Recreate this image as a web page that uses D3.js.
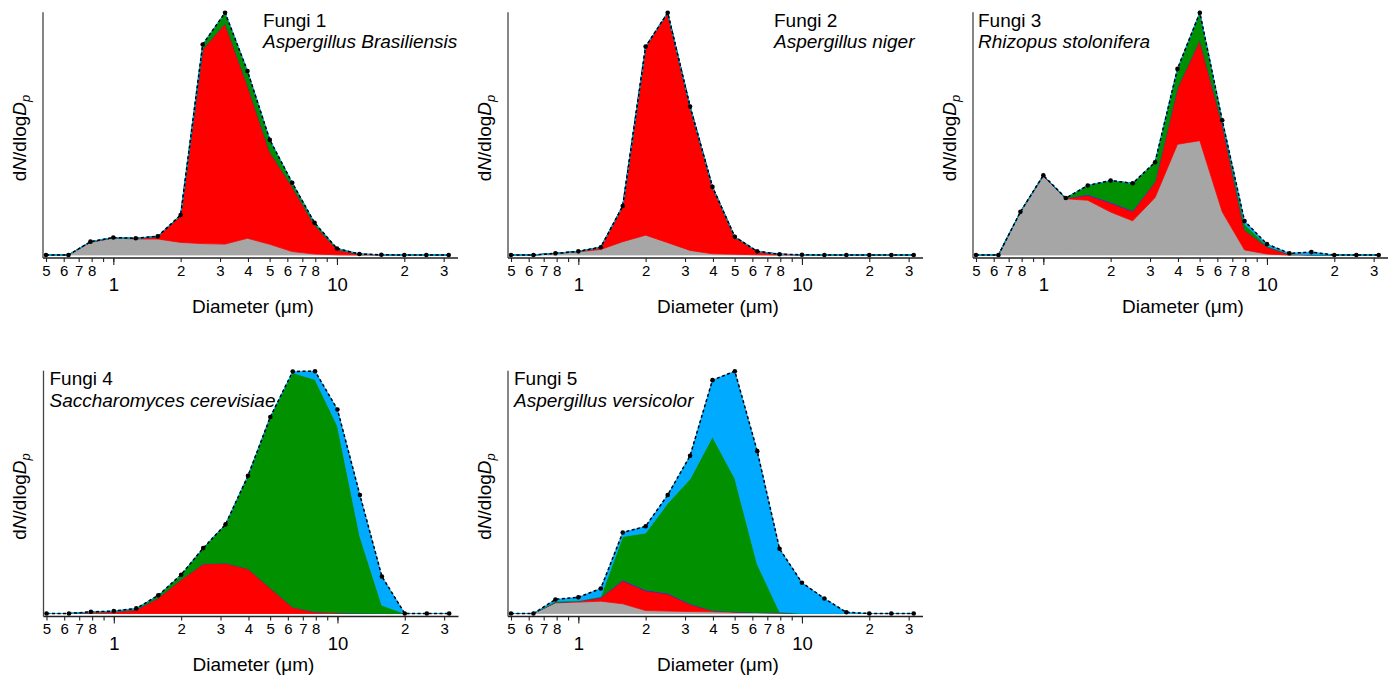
<!DOCTYPE html>
<html><head><meta charset="utf-8">
<script src="https://cdn.jsdelivr.net/npm/d3@7"></script>
<style>
body{margin:0;background:#fff}
svg{display:block}
text{font-family:"Liberation Sans",Arial,sans-serif;fill:#000}
</style>
</head><body><svg id="c" width="1393" height="679"></svg>
<script>
// ---- data ----
const diameters = [0.50,0.63,0.79,1.00,1.26,1.58,2.00,2.51,3.16,3.98,5.01,6.31,7.94,10.0,12.6,15.8,20.0,25.1,31.6];
const layerColors = ["#a6a6a6","#ff0000","#2020ff","#009000","#00aaff"];
const tickValues = [0.5,0.6,0.7,0.8,0.9,1,2,3,4,5,6,7,8,9,10,20,30];
const tickLabels = ["5","6","7","8","","","2","3","4","5","6","7","8","","","2","3"];
const majorTicks = [1,10];
const majorLabels = ["1","10"];

const f1Gray  = [0,0,5.2,7.0,6.6,6.6,5.2,4.7,4.5,6.9,4.4,1.4,0.4,0.1,0,0,0,0,0];
const f1Red   = [0,0,0.2,0.1,0.2,1.0,11.0,80.2,91.1,63.3,38.2,26.8,12.0,2.2,0.3,0.1,0,0,0];
const f1Blue  = [0,0,0,0,0,0,0,0,0,0,0,0,0,0,0,0,0,0,0];
const f1Green = [0,0,0.1,0.1,0.1,0.1,0.3,2.0,4.4,5.7,4.9,1.6,0.9,0.4,0.1,0,0,0,0];
const f1Sky   = [0,0,0,0,0,0,0,0,0,0,0,0,0,0,0,0,0,0,0];

const f2Gray  = [0,0,0.6,1.3,2.3,5.5,8.2,5.1,1.9,0.5,0.3,0.1,0,0,0,0,0,0,0];
const f2Red   = [0,0,0.1,0.2,0.9,14.7,77.8,94.9,59.4,27.6,7.2,1.4,0.3,0.1,0,0,0,0,0];
const f2Blue  = [0,0,0,0,0,0,0,0,0,0,0,0,0,0,0,0,0,0,0];
const f2Green = [0,0,0,0,0,0,0,0,0,0,0,0,0,0,0,0,0,0,0];
const f2Sky   = [0,0,0,0,0,0,0,0,0,0,0,0,0,0,0,0,0,0,0];

const f3Gray  = [0,0,17.8,32.5,23.2,22.6,17.7,14.1,23.7,45.7,47.2,17.8,2.1,0.4,0,0,0,0,0];
const f3Red   = [0,0,0,0.3,0.2,2.1,3.8,3.9,6.5,23.3,41.6,36.4,8.2,3.0,0.3,0.1,0,0,0];
const f3Blue  = [0,0,0,0,0,0.3,0.3,0.3,0.1,0,0,0,0,0,0,0,0,0,0];
const f3Green = [0,0,0,0.1,0.1,3.7,8.9,11.3,8.0,7.8,11.2,1.2,2.5,0.4,0.1,0,0,0,0];
const f3Sky   = [0,0,0,0,0,0,0,0,0,0,0,0.2,1.2,0.7,0.3,1.1,0,0,0];

const f4Gray  = [0,0,0,0,0,0,0,0,0,0,0,0,0,0,0,0,0,0,0];
const f4Red   = [0,0,0.4,0.7,1.6,6.4,14.0,20.5,20.8,18.5,10.5,2.6,0.7,0.3,0.1,0,0,0,0];
const f4Blue  = [0,0,0,0,0,0,0,0,0,0,0,0,0,0,0,0,0,0,0];
const f4Green = [0,0,0.2,0.2,0.4,1.0,2.0,6.5,16.0,38.3,70.6,96.8,95.9,77.1,31.7,3.4,0,0,0];
const f4Sky   = [0,0,0.1,0.1,0.1,0.1,0,0,0,0,0,0.5,3.4,6.8,17.1,11.9,0,0,0];

const f5Gray  = [0,0,4.4,4.7,5.1,4.0,1.2,1.0,0.8,0.7,0.5,0.4,0.3,0,0,0,0,0,0];
const f5Red   = [0,0,0.2,0.4,1.4,9.5,8.2,7.1,3.0,0.5,0.2,0,0,0,0,0,0,0,0];
const f5Blue  = [0,0,0,0,0.2,0.3,0.3,0.3,0.2,0,0,0,0,0,0,0,0,0,0];
const f5Green = [0,0,0.5,0.2,0.3,18.0,23.5,37.1,51.5,71.7,55.1,20.0,0.4,0,0,0,0,0,0];
const f5Sky   = [0,0,0.7,1.4,3.3,1.6,2.8,3.4,9.6,23.4,44.2,46.6,26.0,12.7,6.2,0.5,0,0,0];

// ---- layout ----
const panels = [
  {title:"Fungi 1", species:"Aspergillus Brasiliensis", layers:[f1Gray,f1Red,f1Blue,f1Green,f1Sky], ox:0,   oy:0,     tx:263},
  {title:"Fungi 2", species:"Aspergillus niger",        layers:[f2Gray,f2Red,f2Blue,f2Green,f2Sky], ox:465, oy:0,     tx:309},
  {title:"Fungi 3", species:"Rhizopus stolonifera",     layers:[f3Gray,f3Red,f3Blue,f3Green,f3Sky], ox:930, oy:0,     tx:48},
  {title:"Fungi 4", species:"Saccharomyces cerevisiae", layers:[f4Gray,f4Red,f4Blue,f4Green,f4Sky], ox:0.5, oy:358.5, tx:49},
  {title:"Fungi 5", species:"Aspergillus versicolor",   layers:[f5Gray,f5Red,f5Blue,f5Green,f5Sky], ox:465, oy:358.5, tx:49}
];

const svg = d3.select("#c");
const zeroY = 255, topY = 12.7, axisY = 258, axL = 43, axR = 458;
const x = d3.scaleLog().domain([0.5, 31.6]).range([46, 448.7]);
const FONT = '"Liberation Sans",Arial,sans-serif';

panels.forEach(p => {
  const g = svg.append("g").attr("transform", `translate(${p.ox},${p.oy})`);
  const rows = diameters.map((d, i) => {
    const r = {d};
    p.layers.forEach((arr, j) => r["s" + j] = arr[i]);
    return r;
  });
  const keys = p.layers.map((_, j) => "s" + j);
  const totals = rows.map(r => keys.reduce((s, k) => s + r[k], 0));
  const y = d3.scaleLinear().domain([0, d3.max(totals)]).range([zeroY, topY]);
  const stacked = d3.stack().keys(keys)(rows);
  const area = d3.area().x(d => x(d.data.d)).y0(d => y(d[0])).y1(d => y(d[1]));
  g.selectAll("path.layer").data(stacked).join("path")
    .attr("class", "layer")
    .attr("d", area)
    .attr("fill", (d, i) => layerColors[i])
    .attr("stroke", (d, i) => layerColors[i])
    .attr("stroke-width", 0.8)
    .attr("stroke-linejoin", "round");

  // total dashed line with dots
  const line = d3.line().x((d, i) => x(diameters[i])).y(d => y(d));
  g.append("path").attr("d", line(totals))
    .attr("fill", "none").attr("stroke", "#000")
    .attr("stroke-width", 1.5).attr("stroke-dasharray", "3,2.5");
  g.selectAll("circle.pt").data(totals).join("circle")
    .attr("class", "pt")
    .attr("cx", (d, i) => x(diameters[i])).attr("cy", d => y(d))
    .attr("r", 2.3).attr("fill", "#000");

  // axes lines
  g.append("line").attr("x1", axL).attr("x2", axR).attr("y1", axisY).attr("y2", axisY)
    .attr("stroke", "#222").attr("stroke-width", 1.3);
  g.append("line").attr("x1", axL).attr("x2", axL).attr("y1", topY - 0.5).attr("y2", axisY)
    .attr("stroke", "#444").attr("stroke-width", 1.3);

  // minor ticks with small labels
  const ax = g.append("g").attr("transform", `translate(0,${axisY})`)
    .call(d3.axisBottom(x).tickValues(tickValues).tickSize(4).tickSizeOuter(0)
      .tickFormat((d, i) => tickLabels[i]));
  ax.select(".domain").remove();
  ax.selectAll(".tick line").attr("stroke", "#222").attr("stroke-width", 1.1);
  ax.selectAll(".tick text").attr("y", 17.5).attr("dy", null)
    .style("font-size", "15px").style("font-family", FONT).attr("fill", "#000");

  // major ticks
  const axM = g.append("g").attr("transform", `translate(0,${axisY})`)
    .call(d3.axisBottom(x).tickValues(majorTicks).tickSize(7).tickSizeOuter(0)
      .tickFormat((d, i) => majorLabels[i]));
  axM.select(".domain").remove();
  axM.selectAll(".tick line").attr("stroke", "#222").attr("stroke-width", 1.1);
  axM.selectAll(".tick text").attr("y", 33).attr("dy", null)
    .style("font-size", "18.5px").style("font-family", FONT).attr("fill", "#000");

  // x label
  const xl = g.append("text").attr("x", 253).attr("y", 312.5).attr("text-anchor", "middle")
    .style("font-size", "19px");
  xl.append("tspan").text("Diameter (");
  xl.append("tspan").text("\u03bc");
  xl.append("tspan").text("m)");

  // y label
  const yl = g.append("text").attr("transform", `translate(25.5,138) rotate(-90)`)
    .attr("text-anchor", "middle").style("font-size", "19px");
  yl.append("tspan").text("d");
  yl.append("tspan").style("font-style", "italic").text("N");
  yl.append("tspan").text("/dlog");
  yl.append("tspan").style("font-style", "italic").text("D");
  yl.append("tspan").style("font-style", "italic").style("font-size", "13px").attr("dy", 4).text("p");

  // titles
  g.append("text").attr("x", p.tx).attr("y", 26.7).style("font-size", "19px").text(p.title);
  g.append("text").attr("x", p.tx).attr("y", 48.3).style("font-size", "19px")
    .style("font-style", "italic").text(p.species);
});
</script>
</body></html>
